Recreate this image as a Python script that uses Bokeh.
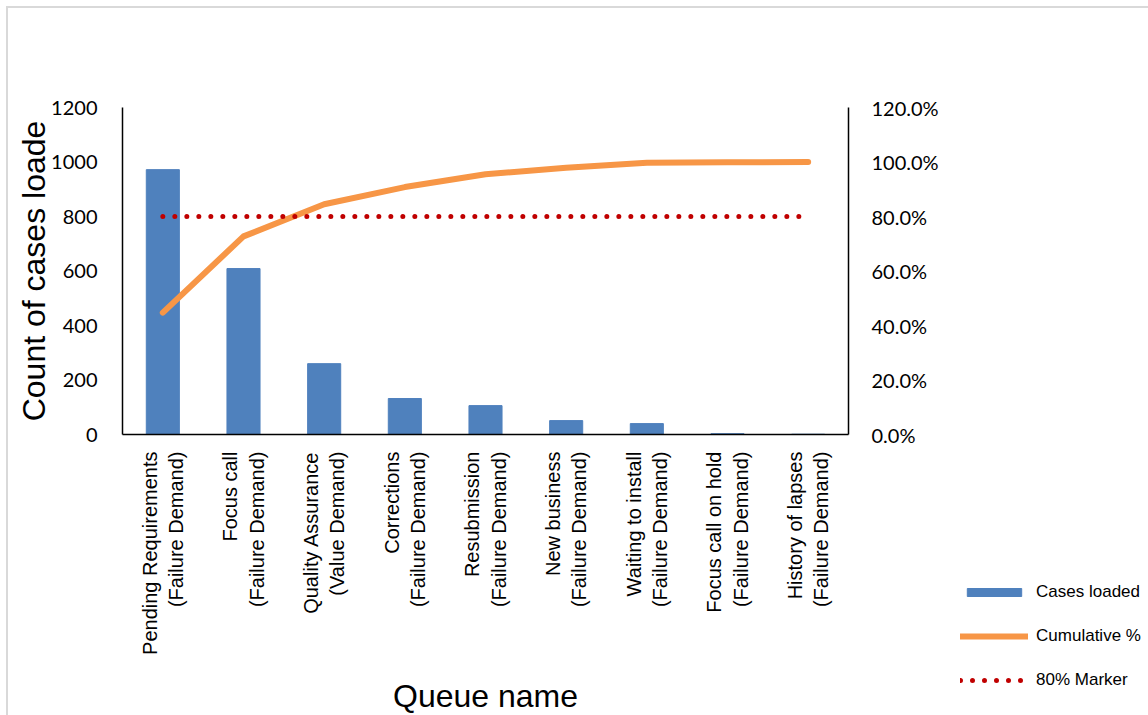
import math
from bokeh.plotting import figure
from bokeh.models import (Range1d, LinearAxis, NumeralTickFormatter, FixedTicker,
                          Legend, LegendItem, FactorRange)
from bokeh.embed import file_html
from bokeh.resources import INLINE

queues = [
    "Pending Requirements\n(Failure Demand)",
    "Focus call\n(Failure Demand)",
    "Quality Assurance\n(Value Demand)",
    "Corrections\n(Failure Demand)",
    "Resubmission\n(Failure Demand)",
    "New business\n(Failure Demand)",
    "Waiting to install\n(Failure Demand)",
    "Focus call on hold\n(Failure Demand)",
    "History of lapses\n(Failure Demand)",
]
cases_loaded = [972, 609, 260, 132, 106, 51, 40, 3, 1]
cumulative_pct = [0.447, 0.727, 0.845, 0.908, 0.955, 0.979, 0.997, 0.999, 1.0]
marker_80 = [0.8, 0.8, 0.8, 0.8, 0.8, 0.8, 0.8, 0.8, 0.8]
left_ticks = [0, 200, 400, 600, 800, 1000, 1200]
right_ticks = [0.0, 0.2, 0.4, 0.6, 0.8, 1.0, 1.2]

p = figure(x_range=FactorRange(*queues), y_range=Range1d(0, 1200),
           frame_width=726, frame_height=327, output_backend="svg", toolbar_location=None,
           min_border_left=114, min_border_right=0, min_border_top=99,
           min_border_bottom=273)
p.margin = (6, 0, 0, 6)
p.styles = {"border-left": "2px solid #d9d9d9", "border-top": "2px solid #d9d9d9"}
p.outline_line_color = None
p.xgrid.visible = False
p.ygrid.visible = False

bars = p.vbar(x=queues, top=cases_loaded, width=0.41, color="#4f81bd")

p.extra_y_ranges = {"pct": Range1d(0, 1.2)}
cum = p.line(queues, cumulative_pct, y_range_name="pct", color="#f79646",
             line_width=6, line_cap="round", line_join="round")
mk = p.line(queues, marker_80, y_range_name="pct", color="#c00000",
            line_width=5, line_dash="0 12", line_cap="round")

# left axis
ya = p.yaxis[0]
ya.ticker = FixedTicker(ticks=left_ticks)
ya.axis_label = "Count of cases loade"
ya.axis_label_text_font = "Liberation Sans"
ya.axis_label_text_font_size = "32px"
ya.axis_label_text_font_style = "normal"
ya.axis_label_text_color = "#000000"
ya.axis_label_standoff = -4
ya.major_label_text_font = "Lato"
ya.major_label_text_font_size = "20px"
ya.major_label_text_color = "#000000"
ya.major_label_standoff = 19
ya.major_tick_line_color = None
ya.minor_tick_line_color = None
ya.axis_line_color = "#000000"
ya.axis_line_width = 1.5

# right axis
ra = LinearAxis(y_range_name="pct", ticker=FixedTicker(ticks=right_ticks),
                formatter=NumeralTickFormatter(format="0.0%"))
ra.major_label_text_font = "Lato"
ra.major_label_text_font_size = "20px"
ra.major_label_text_color = "#000000"
ra.major_label_standoff = 17
ra.major_tick_line_color = None
ra.minor_tick_line_color = None
ra.axis_line_color = "#000000"
ra.axis_line_width = 1.5
p.add_layout(ra, "right")

# bottom axis
xa = p.xaxis[0]
xa.axis_label = "Queue name"
xa.axis_label_text_font = "Liberation Sans"
xa.axis_label_text_font_size = "32px"
xa.axis_label_text_font_style = "normal"
xa.axis_label_text_color = "#000000"
xa.axis_label_standoff = 20
xa.major_label_orientation = math.pi / 2
xa.major_label_text_font = "Liberation Sans"
xa.major_label_text_font_size = "20px"
xa.major_label_text_color = "#000000"
xa.major_label_standoff = 11
xa.major_tick_line_color = None
xa.minor_tick_line_color = None
xa.axis_line_color = "#000000"
xa.axis_line_width = 1.5

legend = Legend(items=[
    LegendItem(label="Cases loaded", renderers=[bars]),
    LegendItem(label="Cumulative %", renderers=[cum]),
    LegendItem(label="80% Marker", renderers=[mk]),
], location=(-198, -256))
legend.padding = 0
legend.margin = 0
legend.border_line_color = None
legend.background_fill_alpha = 0
legend.glyph_width = 68
legend.glyph_height = 10
legend.label_height = 20
legend.spacing = 24
legend.label_standoff = 8
legend.label_text_font = "Liberation Sans"
legend.label_text_font_size = "17px"
legend.label_text_color = "#000000"
p.add_layout(legend, "right")

open("out.html", "w").write(file_html(p, INLINE))
